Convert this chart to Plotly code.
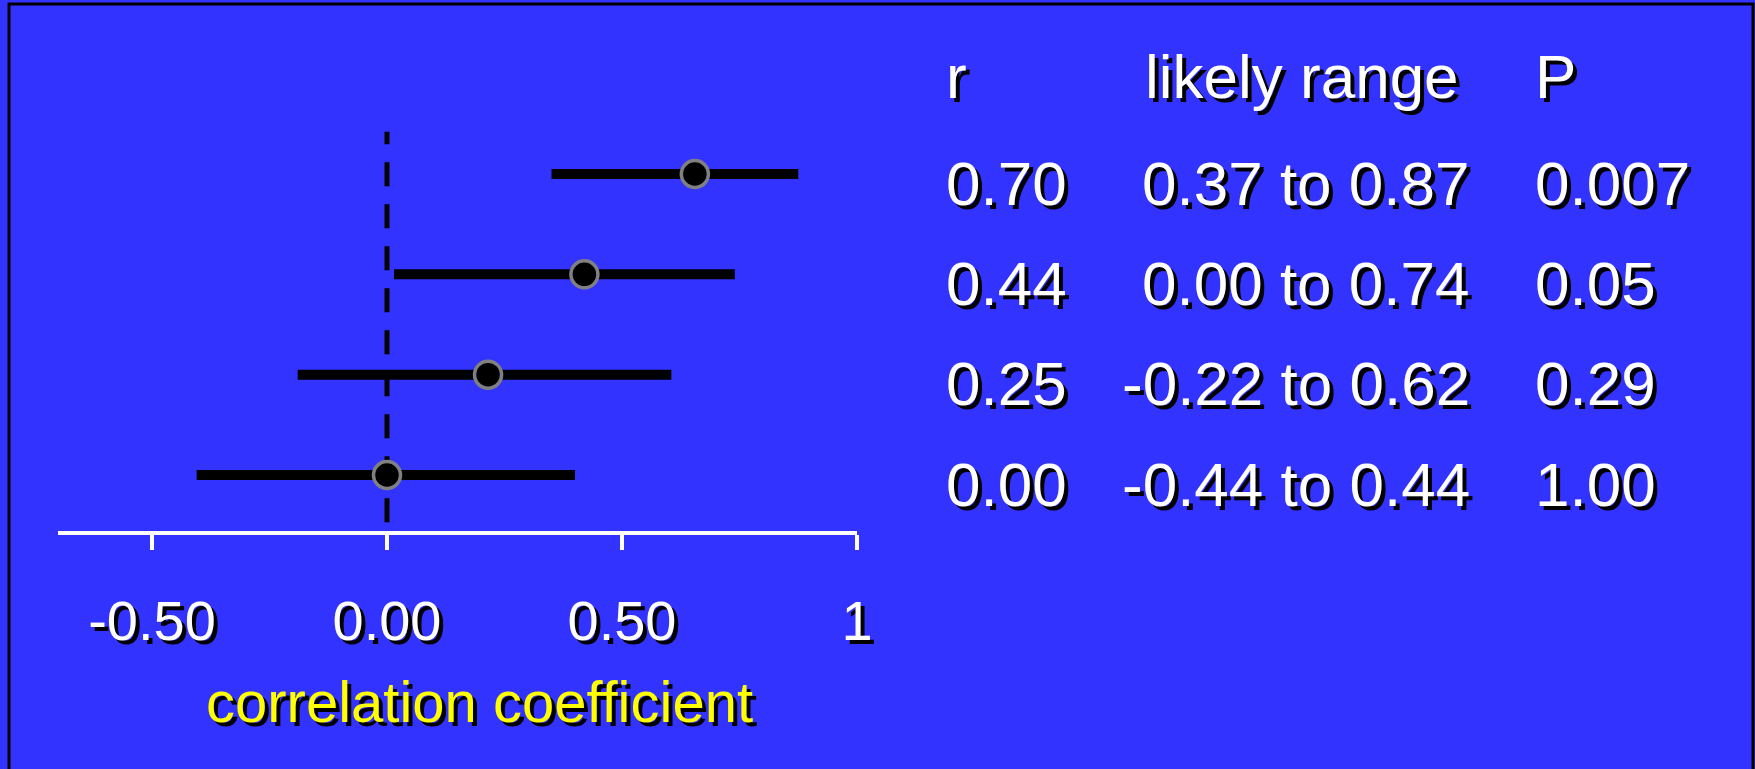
import plotly.graph_objects as go

# ---- data ----
row_pos = [4, 3, 2, 1]                       # top to bottom
point_est = [0.655, 0.42, 0.215, 0.0]        # plotted dot positions
lower = [0.35, 0.015, -0.19, -0.405]         # plotted bar left ends
upper = [0.875, 0.74, 0.605, 0.40]           # plotted bar right ends
r_text = ["0.70", "0.44", "0.25", "0.00"]
range_text = ["0.37 to 0.87", "0.00 to 0.74", "-0.22 to 0.62", "-0.44 to 0.44"]
p_text = ["0.007", "0.05", "0.29", "1.00"]
headers = ["r", "likely range", "P"]
tick_vals = [-0.5, 0.0, 0.5, 1.0]
tick_text = ["-0.50", "0.00", "0.50", "1"]
x_title = "correlation coefficient"
ref_value = 0.0

# ---- layout constants ----
W, H = 1755, 769
PL, PR, PT, PB = 58, 857, 98, 531
BG = "#3333FF"
FONT = "Liberation Sans, Arial, Helvetica, sans-serif"
SHADOW = "4px 4px 0px #000000"

# y range chosen so rows sit at the right heights
Y_LO = 1 - (PB - 475) / 100.33
Y_HI = 4 + (174 - PT) / 100.33


def xp(px):
    return (px - PL) / (PR - PL)


def yp(py):
    return (PB - py) / (PB - PT)


fig = go.Figure()

# dashed reference line at r = 0
fig.add_trace(go.Scatter(
    x=[ref_value, ref_value], y=[0.53, 4.42], mode="lines",
    line=dict(color="black", width=5, dash="24px,18px"),
    hoverinfo="skip", showlegend=False))

# confidence bars
bx, by = [], []
for lo, hi, y in zip(lower, upper, row_pos):
    bx += [lo, hi, None]
    by += [y, y, None]
fig.add_trace(go.Scatter(
    x=bx, y=by, mode="lines", line=dict(color="black", width=10),
    hoverinfo="skip", showlegend=False))

# point estimates
fig.add_trace(go.Scatter(
    x=point_est, y=row_pos, mode="markers",
    marker=dict(size=27, color="black", line=dict(color="#808080", width=3.5)),
    showlegend=False))

annotations = []
# header row
header_x = [(944, "left"), (1302, "center"), (1533, "left")]
for txt, (px, anc) in zip(headers, header_x):
    annotations.append(dict(
        text=txt, xref="paper", yref="paper", x=xp(px), y=yp(77),
        xanchor=anc, yanchor="middle", showarrow=False,
        font=dict(family=FONT, size=62, color="white", shadow=SHADOW)))

# table rows
for rt, rg, pt, y in zip(r_text, range_text, p_text, row_pos):
    for txt, px, anc in [(rt, 944, "left"), (rg, 1472, "right"), (pt, 1533, "left")]:
        annotations.append(dict(
            text=txt, xref="paper", yref="y", x=xp(px), y=y, yshift=-9,
            xanchor=anc, yanchor="middle", showarrow=False,
            font=dict(family=FONT, size=62, color="white", shadow=SHADOW)))

# axis title
annotations.append(dict(
    text=x_title, xref="paper", yref="paper", x=xp(480), y=yp(701),
    xanchor="center", yanchor="middle", showarrow=False,
    font=dict(family=FONT, size=58, color="#FFFF00", shadow=SHADOW)))

fig.update_layout(
    width=W, height=H,
    margin=dict(l=PL, r=W - PR, t=PT, b=H - PB, pad=0),
    paper_bgcolor=BG, plot_bgcolor=BG,
    showlegend=False,
    annotations=annotations,
    shapes=[dict(type="rect", xref="paper", yref="paper",
                 x0=xp(9), x1=xp(1753), y0=yp(800), y1=yp(4),
                 line=dict(color="black", width=3), fillcolor="rgba(0,0,0,0)",
                 layer="above")],
    xaxis=dict(range=[-0.70, 1.0], showgrid=False, zeroline=False,
               showline=True, linecolor="white", linewidth=4,
               ticks="outside", tickcolor="white", tickwidth=4, ticklen=15,
               tickvals=tick_vals, ticktext=tick_text,
               ticklabelstandoff=23,
               tickfont=dict(family=FONT, size=56, color="white", shadow=SHADOW),
               fixedrange=True),
    yaxis=dict(range=[Y_LO, Y_HI], visible=False, fixedrange=True),
)

fig.write_html(
    "out.html",
    config={"displayModeBar": False},
    post_script="document.body.style.margin='0px';"
                "document.body.style.background='#3333FF';",
)
